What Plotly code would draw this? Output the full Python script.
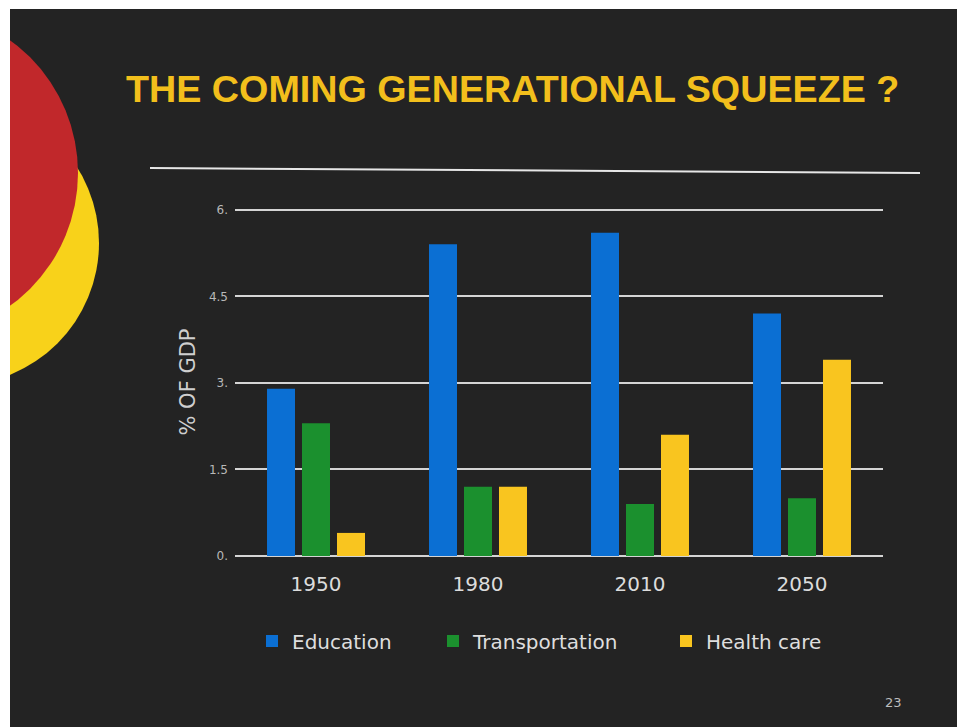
import plotly.graph_objects as go

# ---- data ----
years = ["1950", "1980", "2010", "2050"]
education = [2.9, 5.4, 5.6, 4.2]
transportation = [2.3, 1.2, 0.9, 1.0]
health_care = [0.4, 1.2, 2.1, 3.4]
series_names = ["Education", "Transportation", "Health care"]
y_tickvals = [0, 1.5, 3, 4.5, 6]
y_ticktext = ["0.", "1.5", "3.", "4.5", "6."]
title_text = "THE COMING GENERATIONAL SQUEEZE ?"
y_title = "% OF GDP"
slide_number = "23"

# ---- layout geometry (pixels) ----
FW, FH = 957, 727
L, R, T, B = 235, 74, 208, 171
PW, PH = FW - L - R, FH - T - B


def px(x):
    return (x - L) / PW


def py(y):
    return (FH - B - y) / PH


colors = ["#0b6fd3", "#1b902e", "#f9c51f"]
values = [education, transportation, health_care]
legend_ids = ["legend", "legend2", "legend3"]

fig = go.Figure()
for name, vals, col, lg in zip(series_names, values, colors, legend_ids):
    fig.add_trace(go.Bar(x=years, y=vals, name=name, marker_color=col,
                         marker_line_width=0, legend=lg, showlegend=True))

shapes = [
    # slide background
    dict(type="rect", xref="paper", yref="paper", x0=px(10), x1=px(FW + 5),
         y0=py(FH + 5), y1=py(9), fillcolor="#232323", line_width=0, layer="below"),
    # yellow circle
    dict(type="circle", xref="paper", yref="paper",
         x0=px(-43 - 142), x1=px(-43 + 142), y0=py(243 + 142), y1=py(243 - 142),
         fillcolor="#f8d21a", line_width=0, layer="below"),
    # red circle
    dict(type="circle", xref="paper", yref="paper",
         x0=px(-86 - 164), x1=px(-86 + 164), y0=py(173 + 164), y1=py(173 - 164),
         fillcolor="#c1282b", line_width=0, layer="below"),
    # scan border (white) left and top
    dict(type="rect", xref="paper", yref="paper", x0=px(-400), x1=px(10),
         y0=py(FH + 50), y1=py(-50), fillcolor="white", line_width=0, layer="below"),
    dict(type="rect", xref="paper", yref="paper", x0=px(-50), x1=px(FW + 50),
         y0=py(9), y1=py(-50), fillcolor="white", line_width=0, layer="below"),
    # separator line under title
    dict(type="line", xref="paper", yref="paper", x0=px(150), x1=px(920),
         y0=py(168), y1=py(173), line=dict(color="#e6e6e6", width=2), layer="below"),
]

annotations = [
    dict(text=title_text, xref="paper", yref="paper", x=px(512), y=py(89),
         xanchor="center", yanchor="middle", showarrow=False,
         font=dict(family="Liberation Sans, Arial", size=37.7, color="#f2bf1c",
                   weight="bold")),
    dict(text=slide_number, xref="paper", yref="paper", x=px(893), y=py(702),
         xanchor="center", yanchor="middle", showarrow=False,
         font=dict(family="DejaVu Sans", size=13, color="#bdbdbd")),
]

legend_common = dict(orientation="h", yanchor="middle", xanchor="left",
                     bgcolor="rgba(0,0,0,0)",
                     font=dict(family="DejaVu Sans", size=20, color="#dedede"))

fig.update_layout(
    width=FW, height=FH,
    margin=dict(l=L, r=R, t=T, b=B),
    paper_bgcolor="white",
    plot_bgcolor="rgba(0,0,0,0)",
    showlegend=True,
    barmode="group", bargap=0.352, bargroupgap=0.2,
    shapes=shapes, annotations=annotations,
    legend=dict(legend_common, x=px(252), y=py(641)),
    legend2=dict(legend_common, x=px(433), y=py(641)),
    legend3=dict(legend_common, x=px(666), y=py(641)),
    xaxis=dict(type="category", showgrid=False, showline=False, zeroline=False,
               ticks="", ticklabelstandoff=14,
               tickfont=dict(family="DejaVu Sans", size=20, color="#dcdcdc")),
    yaxis=dict(range=[0, 6.03], tickvals=y_tickvals, ticktext=y_ticktext,
               showgrid=True, gridcolor="#d4d4d4", gridwidth=2,
               zeroline=True, zerolinecolor="#d4d4d4", zerolinewidth=2,
               showline=False, ticks="", ticklabelstandoff=6,
               tickfont=dict(family="DejaVu Sans", size=12, color="#b8b8b8"),
               title=dict(text=y_title, standoff=7,
                          font=dict(family="DejaVu Sans", size=21, color="#cfcfcf"))),
)

fig.write_html("out.html", config={"displayModeBar": False},
               post_script="document.body.style.margin='0';"
                           "document.body.style.overflow='hidden';")
